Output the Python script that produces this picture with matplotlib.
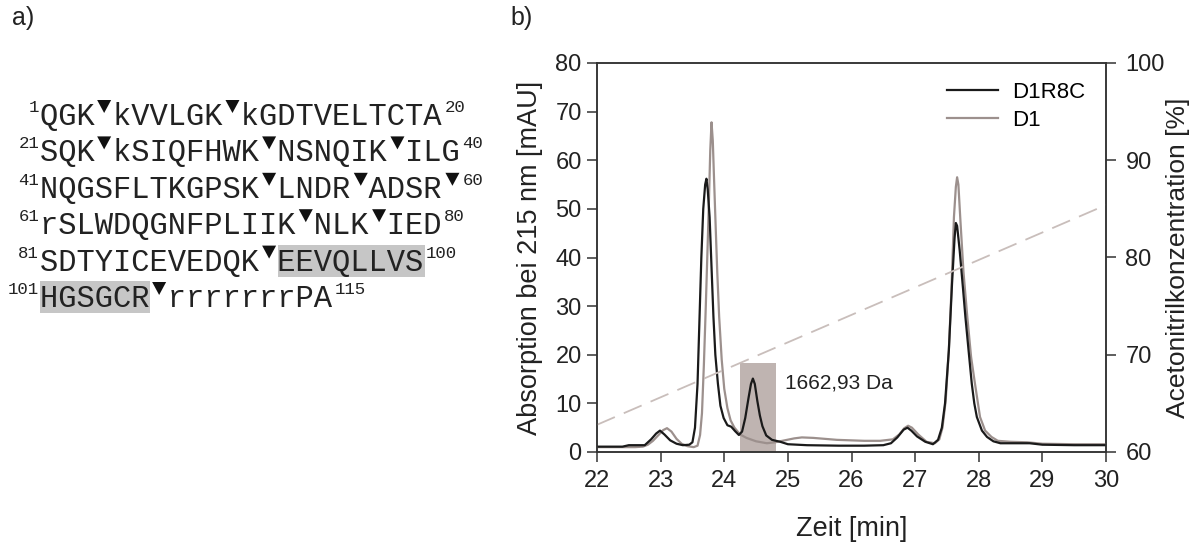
import matplotlib
matplotlib.use("Agg")
import matplotlib.pyplot as plt
from matplotlib.patches import Polygon, Rectangle

plt.rcParams["font.family"] = ["Liberation Sans", "DejaVu Sans"]

# peptide sequence, one row per 20 residues; "^" marks a cleavage site
SEQ_ROWS = [
    "QGK^kVVLGK^kGDTVELTCTA",
    "SQK^kSIQFHWK^NSNQIK^ILG",
    "NQGSFLTKGPSK^LNDR^ADSR^",
    "rSLWDQGNFPLIIK^NLK^IED",
    "SDTYICEVEDQK^EEVQLLVS",
    "HGSGCR^rrrrrrrPA",
]
ROW_START = ["1", "21", "41", "61", "81", "101"]
ROW_END = ["20", "40", "60", "80", "100", "115"]
# highlighted stretches: (row, first cell, number of cells)
HIGHLIGHTS = [(4, 13, 8), (5, 0, 6)]

# HPLC traces: retention time [min], absorption at 215 nm [mAU]
d1r8c_time = [22.00, 22.40, 22.50, 22.75, 22.85, 22.93, 22.99, 23.06, 23.15, 23.25,
              23.35, 23.45, 23.50, 23.54, 23.58, 23.61, 23.64, 23.67, 23.70, 23.72,
              23.74, 23.77, 23.80, 23.83, 23.86, 23.90, 23.94, 23.99, 24.05, 24.11,
              24.17, 24.23, 24.28, 24.33, 24.38, 24.42, 24.45, 24.48, 24.52, 24.56,
              24.60, 24.66, 24.75, 24.88, 25.00, 25.30, 25.80, 26.20, 26.50, 26.62,
              26.72, 26.82, 26.88, 26.94, 27.03, 27.16, 27.28, 27.36, 27.42, 27.47,
              27.53, 27.58, 27.62, 27.64, 27.66, 27.70, 27.75, 27.79, 27.84, 27.89,
              27.93, 27.97, 28.05, 28.13, 28.23, 28.34, 28.60, 28.80, 29.00, 29.50,
              30.00]
d1r8c_abs = [1.1, 1.1, 1.4, 1.4, 2.6, 3.8, 4.4, 3.6, 2.4, 1.7,
             1.4, 1.5, 2.0, 5.0, 14.0, 27.0, 40.0, 50.0, 55.0, 56.2,
             54.0, 48.3, 38.0, 27.8, 20.0, 14.1, 9.5, 7.0, 5.5, 5.2,
             4.3, 3.5, 4.2, 7.0, 11.0, 14.0, 15.1, 14.0, 10.5, 7.5,
             5.3, 3.4, 2.5, 2.1, 1.6, 1.4, 1.3, 1.3, 1.4, 1.8,
             3.0, 4.6, 5.0, 4.4, 3.2, 2.1, 1.6, 2.5, 5.0, 10.0,
             20.9, 34.6, 44.0, 47.1, 46.5, 41.5, 34.0, 27.8, 20.9, 14.1,
             10.0, 7.2, 4.4, 3.1, 2.2, 1.8, 1.8, 1.8, 1.5, 1.4,
             1.4]

d1_time = [22.00, 22.60, 22.72, 22.80, 22.88, 22.96, 23.04, 23.10, 23.17, 23.25,
           23.33, 23.42, 23.52, 23.58, 23.62, 23.65, 23.68, 23.71, 23.74, 23.76,
           23.78, 23.80, 23.82, 23.84, 23.86, 23.89, 23.92, 23.96, 24.00, 24.05,
           24.10, 24.16, 24.25, 24.35, 24.50, 24.67, 24.80, 24.95, 25.10, 25.22,
           25.40, 25.77, 26.20, 26.45, 26.65, 26.75, 26.83, 26.89, 26.95, 27.05,
           27.18, 27.31, 27.38, 27.43, 27.48, 27.53, 27.57, 27.61, 27.64, 27.66,
           27.68, 27.71, 27.76, 27.82, 27.88, 27.94, 28.02, 28.10, 28.20, 28.30,
           28.50, 28.76, 29.00, 29.50, 30.00]
d1_abs = [1.0, 1.0, 1.1, 1.5, 2.3, 3.4, 4.5, 4.9, 4.2, 2.7,
          1.7, 1.2, 1.0, 1.3, 3.5, 8.0, 18.0, 30.0, 43.0, 52.0,
          62.0, 67.8, 64.0, 56.0, 48.3, 37.0, 27.8, 19.0, 13.0, 9.0,
          6.5, 5.0, 3.6, 2.9, 2.2, 1.8, 2.0, 2.4, 2.8, 3.0,
          2.9, 2.5, 2.3, 2.3, 2.6, 3.6, 4.9, 5.4, 5.0, 3.6,
          2.1, 1.8, 2.6, 5.0, 10.5, 21.0, 33.0, 48.3, 54.5, 56.5,
          55.0, 48.0, 37.0, 27.8, 19.5, 14.1, 7.2, 4.4, 3.1, 2.3,
          2.1, 2.0, 1.7, 1.6, 1.6]

# acetonitrile gradient [%]
gradient_time = [22.0, 30.0]
gradient_pct = [62.8, 85.4]

# collected fraction
fraction_start = 24.24
fraction_end = 24.82
fraction_top = 18.3
fraction_label = "1662,93 Da"

BLACK = "#1a1a1a"
GREY = "#9c908d"
FRACTION = "#bfb4b1"
GRADIENT = "#c9bebb"
SPINE = "#333333"
TEXT = "#222222"

fig = plt.figure(figsize=(11.92, 5.48), dpi=100)

# ---- a) sequence, laid out in pixel units ----
W, H = 1192, 548
ax_seq = fig.add_axes([0, 0, 0.45, 1])
ax_seq.set_xlim(0, 0.45 * W)
ax_seq.set_ylim(H, 0)
ax_seq.set_axis_off()

x0 = 40.0
cell = 18.33
base0 = 125.0
row_gap = 36.4
mono = "Liberation Mono"

for row, c0, n in HIGHLIGHTS:
    base = base0 + row * row_gap
    ax_seq.add_patch(Rectangle((x0 + c0 * cell, base - 26), n * cell, 32,
                               facecolor="#c6c6c6", edgecolor="none", zorder=1))

for row, seq in enumerate(SEQ_ROWS):
    base = base0 + row * row_gap
    ax_seq.text(x0, base, seq.replace("^", " "), family=mono, fontsize=22,
                va="baseline", ha="left", color=TEXT, zorder=2)
    ax_seq.text(x0 - 1, base - 13, ROW_START[row], family=mono, fontsize=12.5,
                va="baseline", ha="right", color=TEXT)
    ax_seq.text(x0 + len(seq) * cell + 1, base - 13, ROW_END[row], family=mono,
                fontsize=12.5, va="baseline", ha="left", color=TEXT)
    for i, ch in enumerate(seq):
        if ch == "^":
            cx = x0 + (i + 0.5) * cell
            tri = Polygon([(cx - 7, base - 25), (cx + 7, base - 25), (cx, base - 12)],
                          closed=True, facecolor="#111111", edgecolor="none", zorder=3)
            ax_seq.add_patch(tri)

fig.text(12 / W, 1 - 18 / H, "a)", fontsize=18, va="center", ha="left", color=TEXT)
fig.text(510 / W, 1 - 18 / H, "b)", fontsize=18, va="center", ha="left", color=TEXT)

# ---- b) chromatogram ----
ax = fig.add_axes([597 / W, 1 - 452 / H, 509 / W, 389 / H])
ax.fill_between([fraction_start, fraction_end], 0, fraction_top,
                color=FRACTION, linewidth=0, zorder=1)
ax.plot(d1_time, d1_abs, color=GREY, linewidth=1.6, label="D1", zorder=3)
ax.plot(d1r8c_time, d1r8c_abs, color=BLACK, linewidth=1.6, label="D1R8C", zorder=4)
ax.text(24.95, 14.2, fraction_label, fontsize=15, va="center", ha="left", color=TEXT)

ax.set_xlim(22, 30)
ax.set_ylim(0, 80)
ax.set_xticks(range(22, 31))
ax.set_yticks(range(0, 81, 10))
ax.tick_params(direction="out", length=7, width=1.1, colors=SPINE, labelsize=17,
               labelcolor=TEXT, pad=4)
ax.tick_params(axis="x", pad=6)
for s in ax.spines.values():
    s.set_color(SPINE)
    s.set_linewidth(1.1)
ax.set_xlabel("Zeit [min]", fontsize=19.5, color=TEXT, labelpad=17)
ax.set_ylabel("Absorption bei 215 nm [mAU]", fontsize=19.5, color=TEXT, labelpad=9)

handles, labels = ax.get_legend_handles_labels()
ax.legend(handles[::-1], labels[::-1], loc="upper left", bbox_to_anchor=(0.688, 0.952),
          frameon=False, fontsize=16, handlelength=2.3, handletextpad=0.6,
          labelspacing=0.32, borderpad=0, borderaxespad=0)

ax2 = ax.twinx()
lw = 1.3
ax2.plot(gradient_time, gradient_pct, color=GRADIENT, linewidth=lw,
         dashes=(14 / lw, 7 / lw), zorder=2)
ax2.set_ylim(60, 100)
ax2.set_yticks(range(60, 101, 10))
ax2.tick_params(direction="out", length=7, width=1.1, colors=SPINE, labelsize=17,
                labelcolor=TEXT, pad=7)
for s in ax2.spines.values():
    s.set_color(SPINE)
    s.set_linewidth(1.1)
ax2.set_ylabel("Acetonitrilkonzentration [%]", fontsize=19, color=TEXT, labelpad=1)

fig.savefig("out.png", dpi=100)
